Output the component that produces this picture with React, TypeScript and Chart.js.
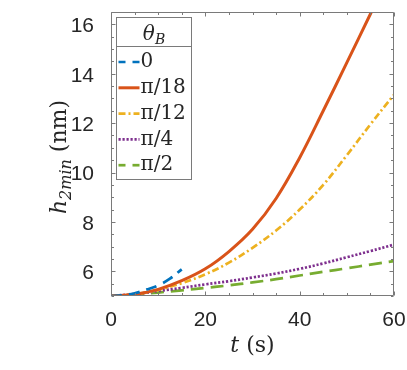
import { useEffect, useRef } from "react";
import { Chart, registerables } from "chart.js";

Chart.register(...registerables);

// ---- data ----
const seriesLabels = ["0", "π/18", "π/12", "π/4", "π/2"];
const seriesColors = ["#0072BD", "#D95319", "#EDB120", "#7E2F8E", "#77AC30"];

const tBlue = [0, 2.5, 5, 7.5, 10, 12.5, 15];
const hBlue = [5.0, 5.03, 5.11, 5.26, 5.43, 5.7, 6.08];

const tOrange = [0, 5, 10, 15, 20, 25, 30, 35, 40, 45, 50, 55, 57];
const hOrange = [5.0, 5.07, 5.27, 5.62, 6.1, 6.8, 7.7, 8.95, 10.6, 12.5, 14.45, 16.42, 17.2];

const tCommon = [0, 5, 10, 15, 20, 25, 30, 35, 40, 45, 50, 55, 60];
const hYellow = [5.0, 5.07, 5.25, 5.52, 5.88, 6.35, 6.95, 7.65, 8.5, 9.5, 10.7, 11.95, 13.15];
const hPurple = [5.0, 5.08, 5.2, 5.33, 5.47, 5.6, 5.75, 5.91, 6.1, 6.32, 6.57, 6.82, 7.08];
const hGreen = [5.0, 5.06, 5.14, 5.23, 5.33, 5.43, 5.55, 5.68, 5.83, 5.98, 6.12, 6.27, 6.41];

const xTicks = [0, 20, 40, 60];
const yTicks = [6, 8, 10, 12, 14, 16];
const xRange = [0, 60];
const yRange = [5, 16.5];
const xMinorStep = 5;
const yMinorStep = 0.5;

const legendTitle = "θ";
const legendTitleSub = "B";
const xTitle = ["t", " (s)"];
const yTitle = ["h", "2min", " (nm)"];

const SERIF = '"DejaVu Serif", "Liberation Serif", serif';
const SANS = '"Liberation Sans", Arial, sans-serif';
const AX = "#262626";
const FRAME = "#7a7a7a";

function pts(ts: number[], hs: number[]) {
  return ts.map((t, i) => ({ x: t, y: hs[i] }));
}

const framePlugin = {
  id: "matlabFrame",
  afterDatasetsDraw(chart: any) {
    const { ctx, chartArea: a, scales } = chart;
    const xs = scales.x;
    const ys = scales.y;
    const L = Math.round(a.left) + 0.5;
    const R = Math.round(a.right) - 0.5;
    const T = Math.round(a.top) + 0.5;
    const B = Math.round(a.bottom) - 0.5;
    ctx.save();
    ctx.strokeStyle = FRAME;
    ctx.lineWidth = 1;
    ctx.beginPath();
    ctx.rect(L, T, R - L, B - T);
    ctx.stroke();
    const major = 4;
    const minor = 2.5;
    ctx.beginPath();
    for (let v = xRange[0]; v <= xRange[1] + 1e-9; v += xMinorStep) {
      const isMajor = xTicks.some((m) => Math.abs(m - v) < 1e-9);
      const len = isMajor ? major : minor;
      const px = Math.round(xs.getPixelForValue(v)) + 0.5;
      ctx.moveTo(px, B);
      ctx.lineTo(px, B - len);
      ctx.moveTo(px, T);
      ctx.lineTo(px, T + len);
    }
    for (let v = yRange[0]; v <= yRange[1] + 1e-9; v += yMinorStep) {
      const isMajor = yTicks.some((m) => Math.abs(m - v) < 1e-9);
      const len = isMajor ? major : minor;
      const py = Math.round(ys.getPixelForValue(v)) + 0.5;
      ctx.moveTo(L, py);
      ctx.lineTo(L + len, py);
      ctx.moveTo(R, py);
      ctx.lineTo(R - len, py);
    }
    ctx.stroke();
    ctx.restore();
  },
  afterDraw(chart: any) {
    const { ctx, chartArea: a } = chart;
    ctx.save();
    // ---- legend ----
    const bx = Math.round(a.left + 5) + 0.5;
    const by = Math.round(a.top + 5) + 0.5;
    const bw = 75;
    const bh = 162;
    ctx.fillStyle = "#ffffff";
    ctx.fillRect(bx, by, bw, bh);
    ctx.strokeStyle = FRAME;
    ctx.lineWidth = 1;
    ctx.strokeRect(bx, by, bw, bh);
    const sepY = by + 29;
    ctx.beginPath();
    ctx.moveTo(bx, sepY);
    ctx.lineTo(bx + bw, sepY);
    ctx.stroke();
    // title
    ctx.fillStyle = AX;
    ctx.textBaseline = "alphabetic";
    ctx.font = `italic 20px ${SERIF}`;
    const w1 = ctx.measureText(legendTitle).width;
    ctx.font = `italic 14px ${SERIF}`;
    const w2 = ctx.measureText(legendTitleSub).width;
    const tx = bx + bw / 2 - (w1 + w2) / 2;
    const tBase = by + 22;
    ctx.font = `italic 20px ${SERIF}`;
    ctx.fillText(legendTitle, tx, tBase);
    ctx.font = `italic 14px ${SERIF}`;
    ctx.fillText(legendTitleSub, tx + w1, tBase + 4);
    // items
    const ds = chart.data.datasets;
    ctx.font = `20px ${SERIF}`;
    ctx.textBaseline = "middle";
    for (let i = 0; i < ds.length; i++) {
      const cy = sepY + 15.5 + i * 25.8;
      let dash: number[] = ds[i].borderDash || [];
      if (dash.length === 2 && dash[0] > 5) dash = [7, 7];
      ctx.save();
      ctx.strokeStyle = ds[i].borderColor;
      ctx.lineWidth = ds[i].borderWidth;
      ctx.setLineDash(dash);
      ctx.beginPath();
      ctx.moveTo(bx + 2, cy);
      ctx.lineTo(bx + 23, cy);
      ctx.stroke();
      ctx.restore();
      ctx.fillStyle = AX;
      ctx.fillText(ds[i].label, bx + 24, cy);
    }
    // ---- x title ----
    ctx.textBaseline = "alphabetic";
    ctx.font = `italic 22px ${SERIF}`;
    const xw1 = ctx.measureText(xTitle[0]).width;
    ctx.font = `22px ${SERIF}`;
    const xw2 = ctx.measureText(xTitle[1]).width;
    const xcx = (a.left + a.right) / 2;
    const xbase = 352;
    const xx = xcx - (xw1 + xw2) / 2;
    ctx.font = `italic 22px ${SERIF}`;
    ctx.fillText(xTitle[0], xx, xbase);
    ctx.font = `22px ${SERIF}`;
    ctx.fillText(xTitle[1], xx + xw1, xbase);
    // ---- y title ----
    const segs = [
      { t: yTitle[0], f: `italic 22px ${SERIF}`, dy: 0 },
      { t: yTitle[1], f: `italic 16px ${SERIF}`, dy: 5 },
      { t: yTitle[2], f: `22px ${SERIF}`, dy: 0 },
    ];
    let total = 0;
    const widths = segs.map((s) => {
      ctx.font = s.f;
      const w = ctx.measureText(s.t).width;
      total += w;
      return w;
    });
    ctx.translate(66, 157);
    ctx.rotate(-Math.PI / 2);
    let cx = -total / 2;
    segs.forEach((s, i) => {
      ctx.font = s.f;
      ctx.fillText(s.t, cx, s.dy);
      cx += widths[i];
    });
    ctx.restore();
  },
};

function noPad(s: any) {
  s.paddingTop = 0;
  s.paddingBottom = 0;
  s.paddingLeft = 0;
  s.paddingRight = 0;
}

export default function App() {
  const ref = useRef<HTMLCanvasElement | null>(null);
  useEffect(() => {
    if (!ref.current) return;
    const lw = 2.7;
    const chart = new Chart(ref.current, {
      type: "line",
      data: {
        datasets: [
          { label: seriesLabels[0], data: pts(tBlue, hBlue), borderColor: seriesColors[0], borderWidth: lw, borderDash: [11, 7] },
          { label: seriesLabels[1], data: pts(tOrange, hOrange), borderColor: seriesColors[1], borderWidth: 3 },
          { label: seriesLabels[2], data: pts(tCommon, hYellow), borderColor: seriesColors[2], borderWidth: lw, borderDash: [7, 3, 2, 3] },
          { label: seriesLabels[3], data: pts(tCommon, hPurple), borderColor: seriesColors[3], borderWidth: lw, borderDash: [2.2, 1.8] },
          { label: seriesLabels[4], data: pts(tCommon, hGreen), borderColor: seriesColors[4], borderWidth: lw, borderDash: [13, 7] },
        ].map((d) => ({ ...d, pointRadius: 0, fill: false, tension: 0.4, borderCapStyle: "butt" as const })),
      },
      options: {
        responsive: false,
        animation: false,
        layout: { padding: { top: 12, right: 13, left: 0, bottom: 0 } },
        plugins: { legend: { display: false }, title: { display: false }, tooltip: { enabled: false } },
        scales: {
          x: {
            type: "linear",
            min: xRange[0],
            max: xRange[1],
            grid: { display: false },
            border: { display: false },
            afterBuildTicks: (s: any) => { s.ticks = xTicks.map((v) => ({ value: v })); },
            afterFit: (s: any) => { s.height = 74; noPad(s); },
            ticks: { color: AX, font: { family: SANS, size: 21 }, padding: 4, maxRotation: 0 },
          },
          y: {
            type: "linear",
            min: yRange[0],
            max: yRange[1],
            grid: { display: false },
            border: { display: false },
            afterBuildTicks: (s: any) => { s.ticks = yTicks.map((v) => ({ value: v })); },
            afterFit: (s: any) => { s.width = 111; noPad(s); },
            ticks: { color: AX, font: { family: SANS, size: 21 }, padding: 9, labelOffset: 2 },
          },
        },
      },
      plugins: [framePlugin],
    });
    return () => chart.destroy();
  }, []);
  return (
    <div style={{ position: "absolute", left: 0, top: 0, width: 407, height: 370, background: "#fff" }}>
      <canvas ref={ref} width={407} height={370} style={{ display: "block" }} />
    </div>
  );
}
